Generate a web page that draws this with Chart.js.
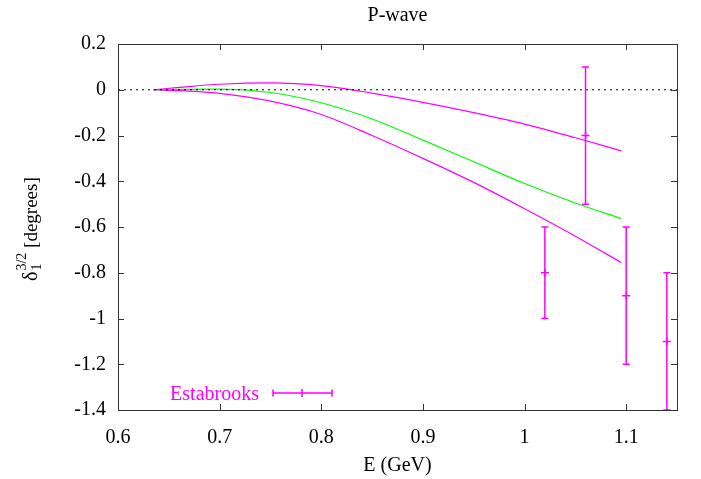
<!DOCTYPE html>
<html>
<head>
<meta charset="utf-8">
<script src="https://cdn.jsdelivr.net/npm/chart.js@4.4.0/dist/chart.umd.min.js"></script>
<style>
html,body{margin:0;padding:0;background:#fff;}
#wrap{width:701px;height:479px;}
</style>
</head>
<body>
<div id="wrap"><canvas id="c" width="701" height="479"></canvas></div>
<script>
// 축 눈금
const xTicks = [0.6, 0.7, 0.8, 0.9, 1, 1.1];
const yTicks = [0.2, 0, -0.2, -0.4, -0.6, -0.8, -1, -1.2, -1.4];

// 곡선
const curveE      = [0.635, 0.66, 0.7, 0.75, 0.8, 0.85, 0.9, 0.95, 1.0, 1.05, 1.095];
const upperBand   = [0, 0.01, 0.024, 0.03, 0.018, -0.015, -0.055, -0.1, -0.15, -0.21, -0.267];
const centralLine = [0, 0.002, 0.003, -0.012, -0.057, -0.128, -0.22, -0.315, -0.41, -0.495, -0.563];
const lowerBand   = [0, -0.004, -0.016, -0.05, -0.108, -0.2, -0.3, -0.405, -0.52, -0.64, -0.755];

// Estabrooks 데이터
const estE   = [1.02, 1.06, 1.10, 1.14];
const estVal = [-0.8, -0.2, -0.9, -1.1];
const estErr = [0.2, 0.3, 0.3, 0.3];

const MAG = '#ff00ff';
const FONT = '"Liberation Serif", "DejaVu Serif", "Noto Serif", "Nimbus Roman", Times, "Times New Roman", serif';
const pts = (xs, ys) => xs.map((x, i) => ({x: x, y: ys[i]}));
const fmt = v => String(+(+v).toFixed(2));

// 테두리 + 안쪽 눈금 (gnuplot 스타일)
const framePlugin = {
  id: 'frame',
  afterDraw(chart){
    const {ctx, chartArea: a, scales: {x, y}} = chart;
    ctx.save();
    ctx.strokeStyle = '#333';
    ctx.lineWidth = 1;
    ctx.strokeRect(a.left + 0.5, a.top + 0.5, a.right - a.left, a.bottom - a.top);
    ctx.beginPath();
    xTicks.forEach(v => {
      const px = Math.round(x.getPixelForValue(v)) + 0.5;
      ctx.moveTo(px, a.bottom); ctx.lineTo(px, a.bottom - 6);
      ctx.moveTo(px, a.top); ctx.lineTo(px, a.top + 6);
    });
    yTicks.forEach(v => {
      const py = Math.round(y.getPixelForValue(v)) + 0.5;
      ctx.moveTo(a.left, py); ctx.lineTo(a.left + 6, py);
      ctx.moveTo(a.right, py); ctx.lineTo(a.right - 6, py);
    });
    ctx.stroke();
    ctx.restore();
  }
};

// 오차 막대
const errPlugin = {
  id: 'errbars',
  afterDatasetsDraw(chart){
    const {ctx, scales: {x, y}} = chart;
    ctx.save();
    ctx.strokeStyle = MAG;
    ctx.lineWidth = 1.5;
    ctx.beginPath();
    estE.forEach((e, i) => {
      const px = x.getPixelForValue(e);
      const y1 = y.getPixelForValue(estVal[i] + estErr[i]);
      const y2 = y.getPixelForValue(estVal[i] - estErr[i]);
      ctx.moveTo(px, y1); ctx.lineTo(px, y2);
      ctx.moveTo(px - 3.5, y1); ctx.lineTo(px + 3.5, y1);
      ctx.moveTo(px - 3.5, y2); ctx.lineTo(px + 3.5, y2);
    });
    ctx.stroke();
    ctx.restore();
  }
};

// 제목, 축 이름, 범례
const textPlugin = {
  id: 'texts',
  afterDraw(chart){
    const {ctx, chartArea: a} = chart;
    ctx.save();
    ctx.fillStyle = '#000';
    ctx.textAlign = 'center';
    ctx.textBaseline = 'alphabetic';
    ctx.font = `20px ${FONT}`;
    const cx = (a.left + a.right) / 2;
    ctx.fillText('P-wave', cx, 21);
    ctx.fillText('E (GeV)', cx, 471);

    // y축 이름: δ_1^{3/2} [degrees]
    ctx.save();
    ctx.translate(37, 281);
    ctx.rotate(-Math.PI / 2);
    ctx.textAlign = 'left';
    ctx.font = `20px ${FONT}`;
    ctx.fillText('δ', 0, 0);
    let w = ctx.measureText('δ').width + 1;
    ctx.font = `14px ${FONT}`;
    ctx.fillText('1', w, 4);
    ctx.fillText('3/2', w, -11);
    w += ctx.measureText('3/2').width;
    ctx.font = `19px ${FONT}`;
    ctx.fillText(' [degrees]', w, 0);
    ctx.restore();

    // 범례
    ctx.fillStyle = MAG;
    ctx.textAlign = 'right';
    ctx.font = `20px ${FONT}`;
    ctx.fillText('Estabrooks', 259, 400);
    ctx.strokeStyle = MAG;
    ctx.lineWidth = 1.5;
    ctx.beginPath();
    ctx.moveTo(273, 393); ctx.lineTo(332, 393);
    ctx.moveTo(273, 389.5); ctx.lineTo(273, 396.5);
    ctx.moveTo(332, 389.5); ctx.lineTo(332, 396.5);
    ctx.moveTo(298, 393); ctx.lineTo(306, 393);
    ctx.moveTo(302, 389); ctx.lineTo(302, 397);
    ctx.stroke();
    ctx.restore();
  }
};

const lineDs = (data, color) => ({
  data: data, showLine: true, borderColor: color, borderWidth: 1.2,
  pointRadius: 0, cubicInterpolationMode: 'monotone', fill: false
});

new Chart(document.getElementById('c').getContext('2d'), {
  type: 'scatter',
  data: {
    datasets: [
      { data: [{x: 0.6, y: 0}, {x: 1.15, y: 0}], showLine: true, borderColor: '#000',
        borderWidth: 1, borderDash: [2, 4], pointRadius: 0 },
      lineDs(pts(curveE, upperBand), MAG),
      lineDs(pts(curveE, centralLine), '#00ff00'),
      lineDs(pts(curveE, lowerBand), MAG),
      { data: pts(estE, estVal), showLine: false, pointStyle: 'cross', pointRadius: 4,
        borderColor: MAG, borderWidth: 1.5, backgroundColor: MAG }
    ]
  },
  options: {
    responsive: false,
    animation: false,
    devicePixelRatio: 1,
    layout: { padding: { top: 44, right: 24, left: 0, bottom: 0 } },
    plugins: { legend: { display: false }, tooltip: { enabled: false }, title: { display: false } },
    scales: {
      x: {
        type: 'linear', min: 0.6, max: 1.15,
        grid: { display: false, drawTicks: false }, border: { display: false },
        ticks: { color: '#000', font: { family: FONT, size: 20 }, padding: 16, maxRotation: 0, callback: fmt },
        afterBuildTicks: s => { s.ticks = xTicks.map(v => ({value: v})); },
        afterFit: s => { s.height = 69; }
      },
      y: {
        type: 'linear', min: -1.4, max: 0.2,
        grid: { display: false, drawTicks: false }, border: { display: false },
        ticks: { color: '#000', font: { family: FONT, size: 20 }, padding: 12, callback: fmt },
        afterBuildTicks: s => { s.ticks = yTicks.map(v => ({value: v})); },
        afterFit: s => { s.width = 118; }
      }
    }
  },
  plugins: [framePlugin, errPlugin, textPlugin]
});
</script>
</body>
</html>
